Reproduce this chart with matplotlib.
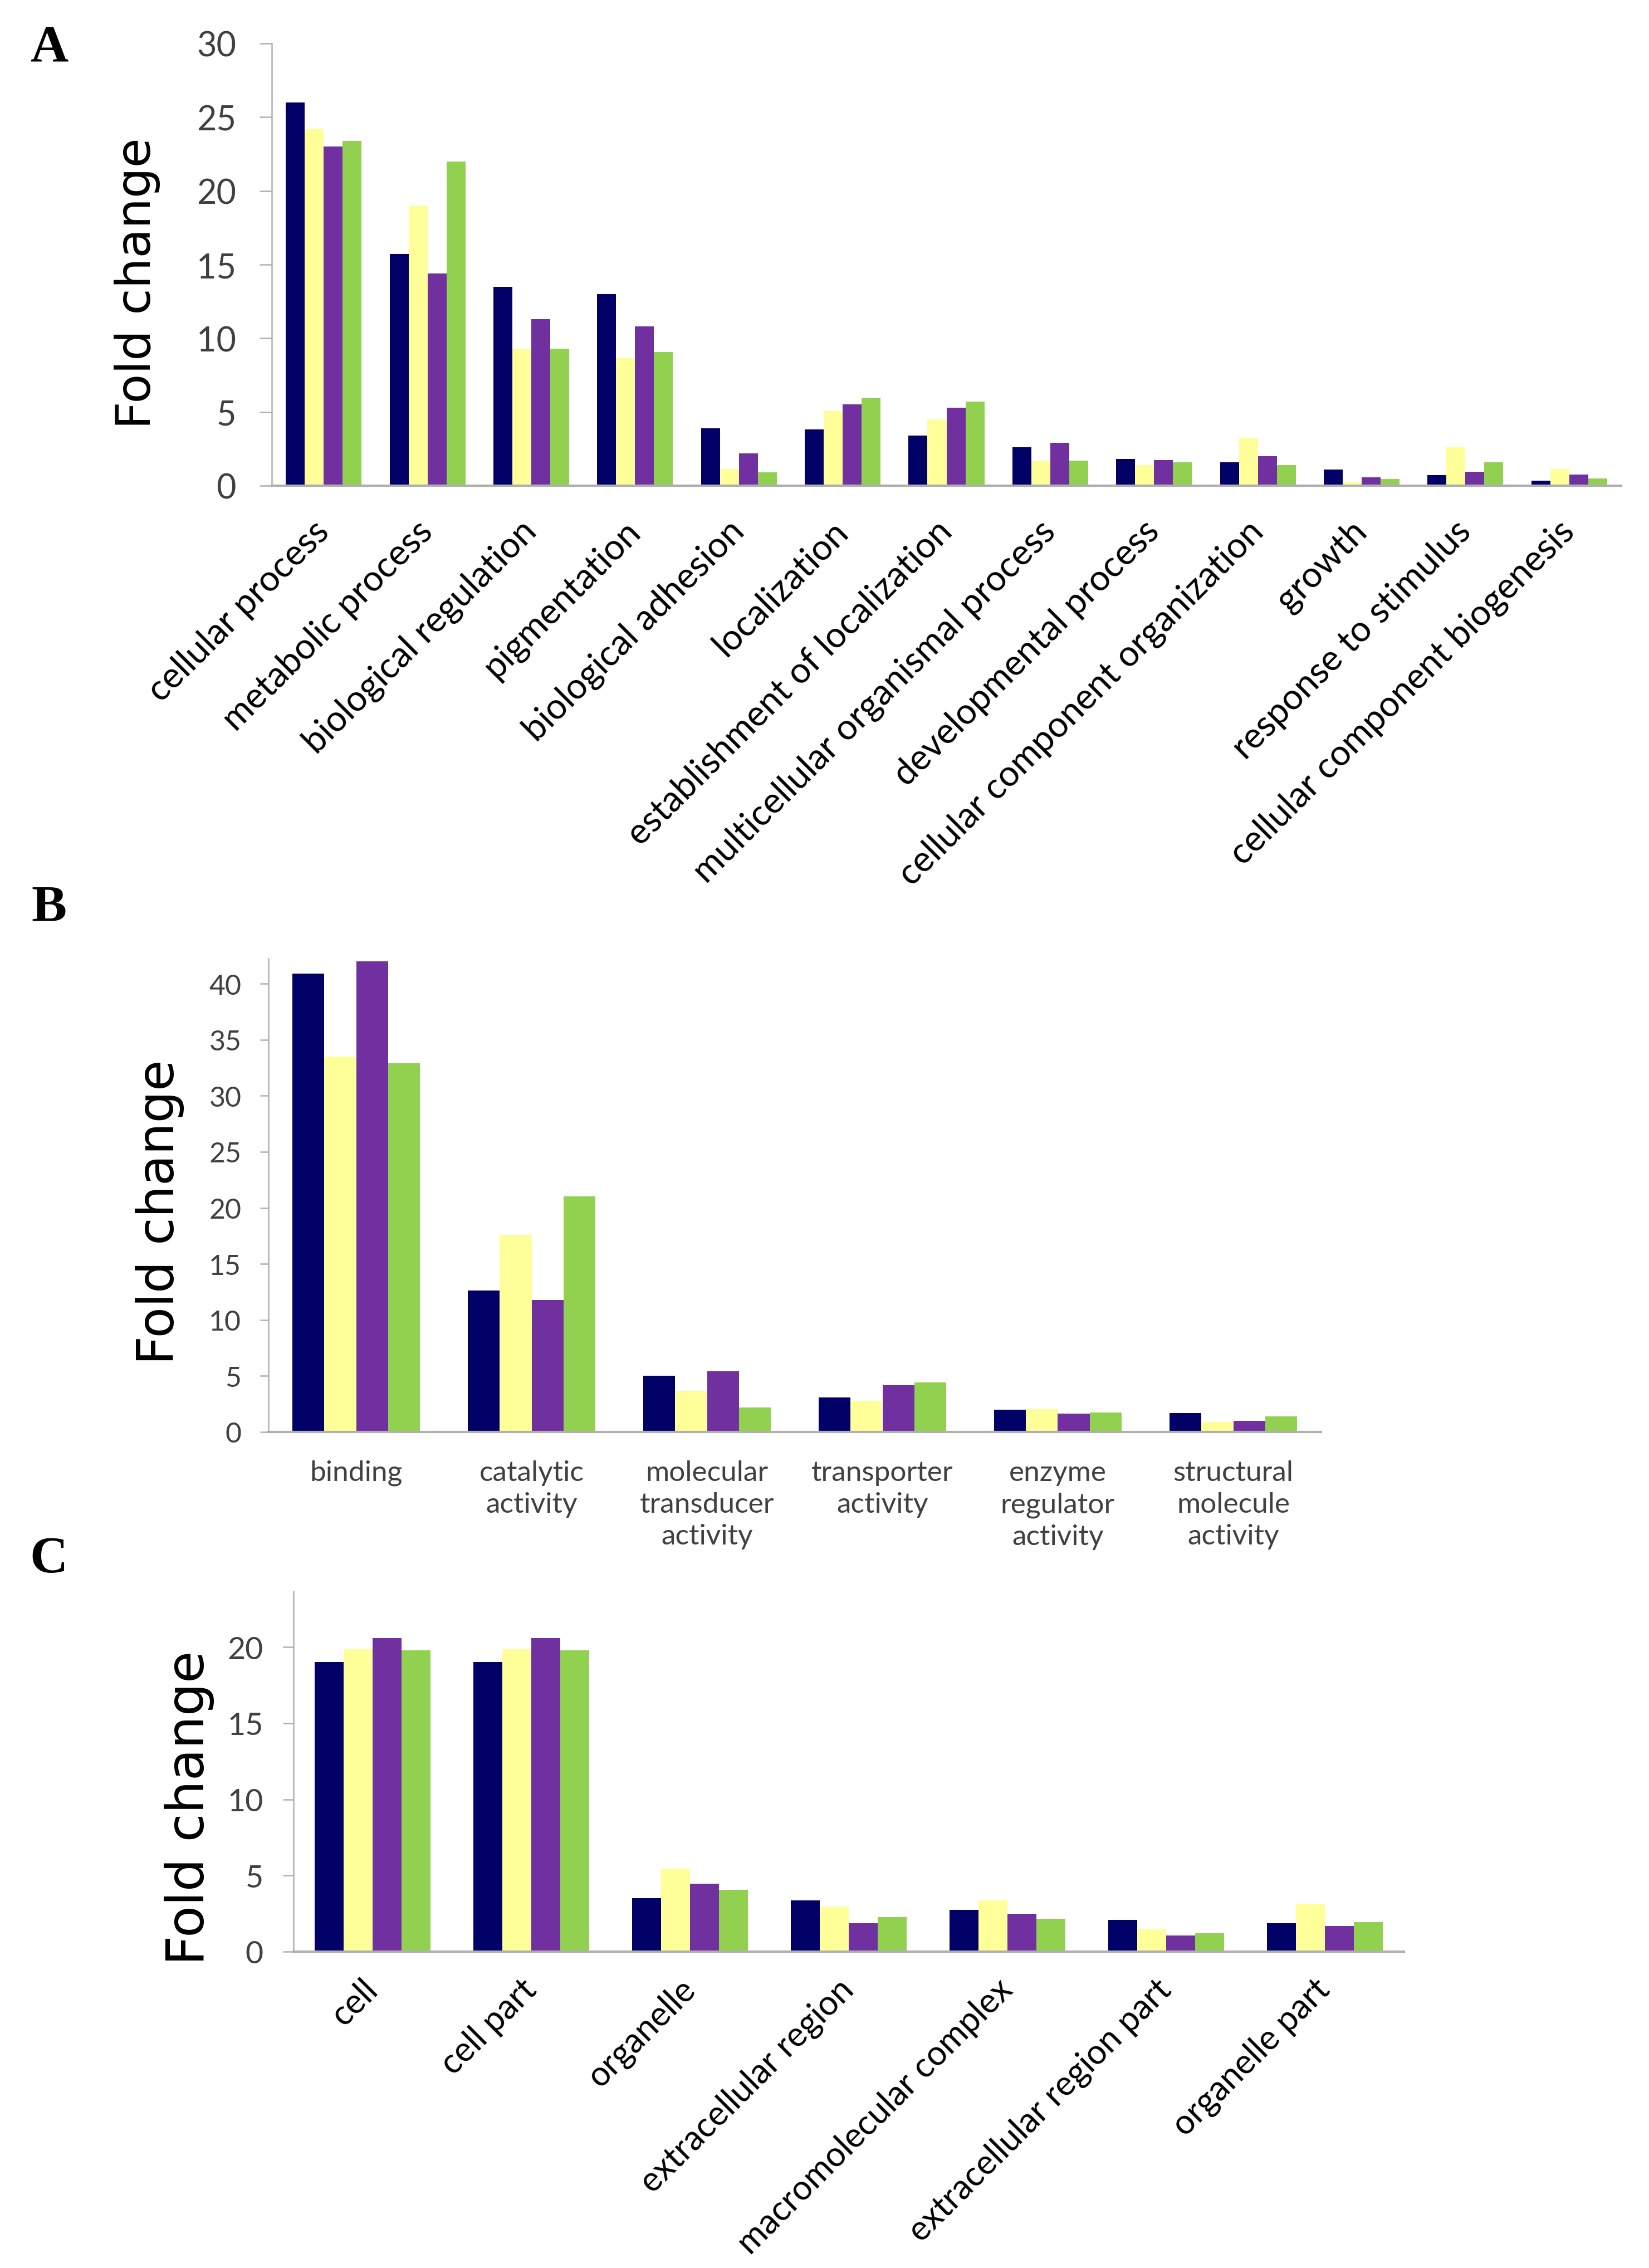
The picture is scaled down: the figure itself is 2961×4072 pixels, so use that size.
import matplotlib
matplotlib.use("Agg")
import matplotlib.pyplot as plt
import numpy as np

plt.rcParams['font.family'] = ['Lato', 'DejaVu Sans']

# colores de las 4 series (estilo Excel)
COLORS = ['#000066', '#ffff99', '#7030a0', '#92d050']
AXIS_GREY = '#b0b0b0'
TEXT_GREY = '#404040'

# A - biological process
bp_cats = ['cellular process', 'metabolic process', 'biological regulation',
           'pigmentation', 'biological adhesion', 'localization',
           'establishment of localization', 'multicellular organismal process',
           'developmental process', 'cellular component organization',
           'growth', 'response to stimulus', 'cellular component biogenesis']
bp_s1 = [26.0, 15.7, 13.5, 13.0, 3.9, 3.8, 3.4, 2.6, 1.8, 1.6, 1.1, 0.7, 0.35]
bp_s2 = [24.2, 19.0, 9.3, 8.7, 1.15, 5.05, 4.5, 1.7, 1.4, 3.25, 0.25, 2.6, 1.15]
bp_s3 = [23.0, 14.4, 11.3, 10.8, 2.2, 5.5, 5.3, 2.9, 1.75, 2.0, 0.55, 0.95, 0.75]
bp_s4 = [23.4, 22.0, 9.3, 9.05, 0.9, 5.95, 5.7, 1.7, 1.6, 1.4, 0.45, 1.6, 0.5]

# B - molecular function
mf_cats = ['binding', 'catalytic\nactivity', 'molecular\ntransducer\nactivity',
           'transporter\nactivity', 'enzyme\nregulator\nactivity',
           'structural\nmolecule\nactivity']
mf_s1 = [40.9, 12.6, 5.0, 3.1, 2.0, 1.7]
mf_s2 = [33.5, 17.6, 3.7, 2.8, 2.05, 0.9]
mf_s3 = [42.0, 11.8, 5.4, 4.15, 1.65, 1.0]
mf_s4 = [32.9, 21.0, 2.2, 4.4, 1.75, 1.4]

# C - cellular component
cc_cats = ['cell', 'cell part', 'organelle', 'extracellular region',
           'macromolecular complex', 'extracellular region part', 'organelle part']
cc_s1 = [19.0, 19.0, 3.5, 3.35, 2.75, 2.1, 1.85]
cc_s2 = [19.85, 19.85, 5.45, 2.95, 3.35, 1.45, 3.15]
cc_s3 = [20.6, 20.6, 4.45, 1.85, 2.5, 1.05, 1.7]
cc_s4 = [19.8, 19.8, 4.05, 2.25, 2.15, 1.2, 1.95]


def panel(fig, rect, cats, series, ymax, ystep, ytick_size, tick_len, ytick_pad):
    ax = fig.add_axes(rect)
    x = np.arange(len(cats))
    w = 0.73 / 4
    for i, (vals, col) in enumerate(zip(series, COLORS)):
        ax.bar(x + (i - 1.5) * w, vals, width=w, color=col, linewidth=0, zorder=2)
    ax.set_xlim(-0.5, len(cats) - 0.5)
    ax.set_ylim(0, ymax)
    ax.set_yticks(np.arange(0, ymax + 0.01, ystep))
    ax.set_xticks(x)
    for s in ['top', 'right']:
        ax.spines[s].set_visible(False)
    ax.spines['left'].set_color(AXIS_GREY)
    ax.spines['left'].set_linewidth(1.8)
    ax.spines['bottom'].set_color(AXIS_GREY)
    ax.spines['bottom'].set_linewidth(3)
    ax.spines['bottom'].set_zorder(3)
    ax.tick_params(axis='y', length=tick_len, width=1.8, color=AXIS_GREY,
                   labelsize=ytick_size, labelcolor=TEXT_GREY, pad=ytick_pad)
    return ax


W, H = 2961, 4073
fig = plt.figure(figsize=(W / 100, H / 100), dpi=100)


def frac(left, right, y0, ytop):
    return [left / W, 1 - y0 / H, (right - left) / W, (y0 - ytop) / H]


# Panel A
axA = panel(fig, frac(488, 2911, 873, 79), bp_cats, [bp_s1, bp_s2, bp_s3, bp_s4],
            30, 5, 44, 16, 30)
axA.tick_params(axis='x', length=0, pad=52)
axA.set_xticklabels(bp_cats, rotation=45, ha='right', va='center',
                    rotation_mode='anchor', fontsize=46, color='black')

# Panel B
axB = panel(fig, frac(482, 2372, 2572, 1722), mf_cats, [mf_s1, mf_s2, mf_s3, mf_s4],
            42.24, 5, 36, 11, 24)
axB.set_yticks(np.arange(0, 41, 5))
axB.tick_params(axis='x', length=0, pad=36)
axB.set_xticklabels(mf_cats, fontsize=37, color=TEXT_GREY, linespacing=1.3)

# Panel C
axC = panel(fig, frac(527, 2521, 3505, 2858), cc_cats, [cc_s1, cc_s2, cc_s3, cc_s4],
            23.66, 5, 40, 14, 25)
axC.set_yticks(np.arange(0, 21, 5))
axC.tick_params(axis='x', length=0, pad=42)
axC.set_xticklabels(cc_cats, rotation=45, ha='right', va='center',
                    rotation_mode='anchor', fontsize=44, color='black')

# ejes y y letras de panel
for (xc, yc), fs in zip([(246, 509), (287, 2176), (340, 3246)], [62, 65, 67]):
    fig.text(xc / W, 1 - yc / H, 'Fold change', rotation=90, ha='center', va='center',
             fontsize=fs, family=['DejaVu Sans'])
for lab, (xc, yc) in zip('ABC', [(88, 88), (88, 1631), (88, 2800)]):
    fig.text(xc / W, 1 - yc / H, lab, ha='center', va='center', fontsize=68,
             fontweight='bold', family=['Liberation Serif', 'DejaVu Serif'])

fig.savefig('out.png', dpi=100)
